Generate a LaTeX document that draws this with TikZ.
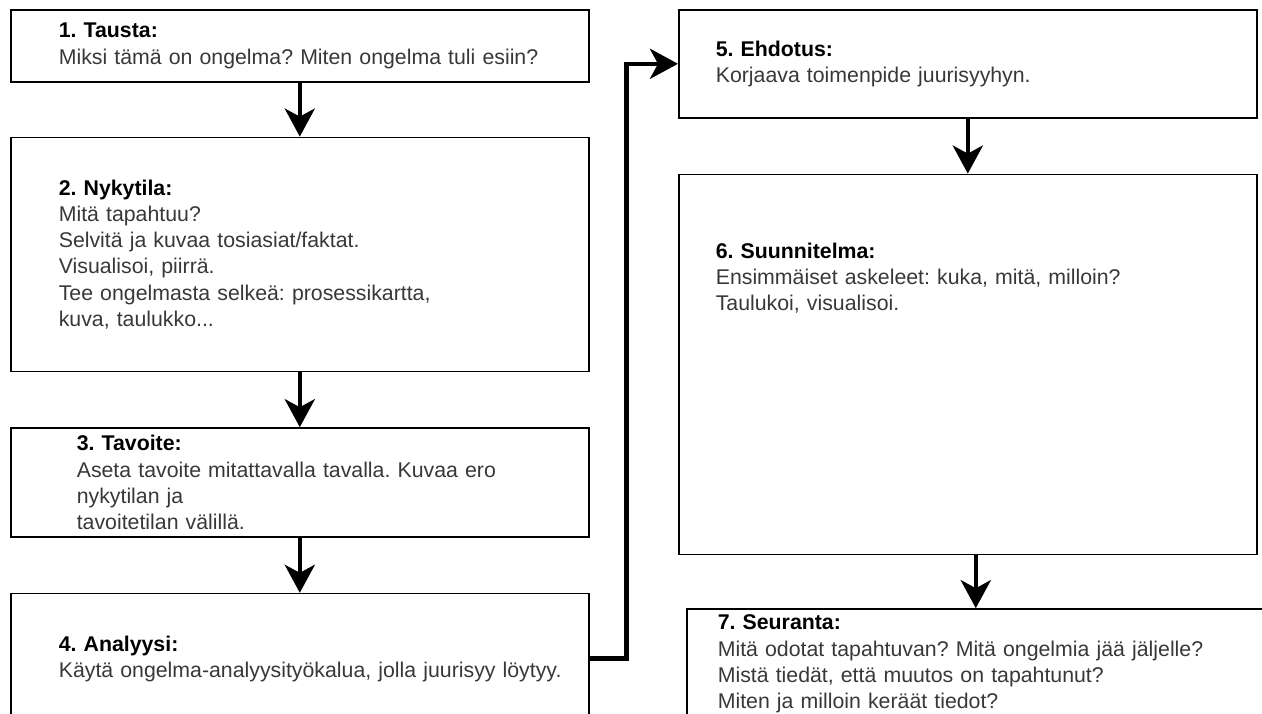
\documentclass[tikz,border=0pt]{standalone}
\usepackage{fontspec}
\setmainfont{Liberation Sans}
\usetikzlibrary{positioning,arrows.meta}
\colorlet{textGray}{black!78}

\begin{document}
\begin{tikzpicture}[x=1pt, y=1pt,
        every node/.style={font=\fontsize{21.3}{26.2}\selectfont\frenchspacing, align=left},
        laatikko/.style={draw, line width=1.6pt, text width=578pt, inner xsep=0pt, inner ysep=0pt, text=textGray,
            execute at begin node={\leftskip=#1\relax}},
        nuoli/.style={-{Stealth[length=28pt, width=30pt, inset=8pt]}, line width=4.5pt}]
    \useasboundingbox (0,0) rectangle (1262,-713);
    \clip (0,0) rectangle (1262,-713);

    % vasen sarake
    \node[laatikko=48pt, minimum height=72pt, anchor=north west] (tausta) at (10,-9)
        {{\bfseries\color{black}1. Tausta:}\\Miksi tämä on ongelma? Miten ongelma tuli esiin?};
    \node[laatikko=48pt, minimum height=234pt, below=54pt of tausta] (nykytila)
        {{\bfseries\color{black}2. Nykytila:}\\Mitä tapahtuu?\\Selvitä ja kuvaa tosiasiat/faktat.\\Visualisoi, piirrä.\\Tee ongelmasta selkeä: prosessikartta,\\kuva, taulukko...};
    \node[laatikko=66pt, minimum height=109pt, below=55pt of nykytila] (tavoite)
        {{\bfseries\color{black}3. Tavoite:}\\Aseta tavoite mitattavalla tavalla. Kuvaa ero\\nykytilan ja\\tavoitetilan välillä.};
    \node[laatikko=48pt, minimum height=130pt, below=55pt of tavoite] (analyysi)
        {{\bfseries\color{black}4. Analyysi:}\\Käytä ongelma-analyysityökalua, jolla juurisyy löytyy.};

    % oikea sarake
    \node[laatikko=37pt, minimum height=108pt, anchor=north west] (ehdotus) at (678,-9)
        {{\bfseries\color{black}5. Ehdotus:}\\Korjaava toimenpide juurisyyhyn.};
    \node[laatikko=37pt, text height=84pt, text depth=296pt, below=55pt of ehdotus] (suunnitelma)
        {{\bfseries\color{black}6. Suunnitelma:}\\Ensimmäiset askeleet: kuka, mitä, milloin?\\Taulukoi, visualisoi.};
    \node[laatikko=31pt, minimum height=110pt, below=53pt of suunnitelma, xshift=8pt] (seuranta)
        {{\bfseries\color{black}7. Seuranta:}\\Mitä odotat tapahtuvan? Mitä ongelmia jää jäljelle?\\Mistä tiedät, että muutos on tapahtunut?\\Miten ja milloin keräät tiedot?};

    \draw[nuoli] (tausta) -- (nykytila);
    \draw[nuoli] (nykytila) -- (tavoite);
    \draw[nuoli] (tavoite) -- (analyysi);
    \draw[nuoli] (analyysi.east) -- ++(37,0) |- (ehdotus.west);
    \draw[nuoli] (ehdotus) -- (suunnitelma);
    \draw[nuoli] (suunnitelma.south -| seuranta) -- (seuranta);
\end{tikzpicture}
\end{document}
